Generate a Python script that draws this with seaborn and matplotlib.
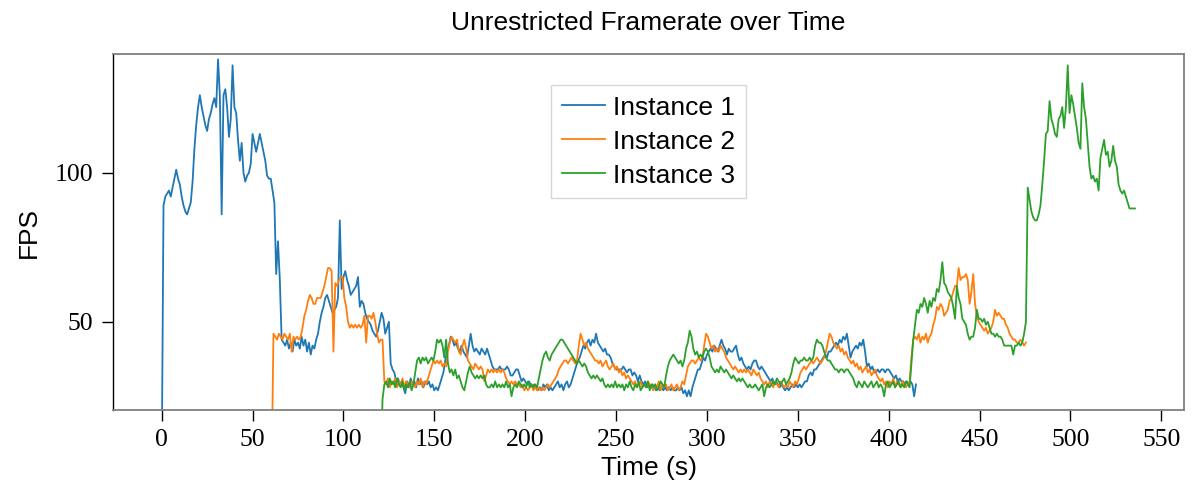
import numpy as np
import pandas as pd
import matplotlib
matplotlib.use("Agg")
import matplotlib.pyplot as plt
import seaborn as sns

# ---------------- data (1 sample per second) ----------------
start1 = 0.0
fps1 = [
    0, 89, 92, 93, 94, 92, 95, 98, 101, 98,          # 0
    96, 92, 89, 87, 86, 88, 90, 97, 108, 116,        # 10
    122, 126, 122, 119, 116, 114, 118, 120, 123, 125,  # 20
    122, 138, 126, 86, 126, 128, 122, 112, 118, 136,   # 30
    122, 120, 111, 104, 110, 100, 97, 99, 100, 103,    # 40
    113, 110, 107, 110, 113, 110, 107, 104, 99, 98,    # 50
    98, 94, 90, 66, 77, 64, 44, 43, 42, 44,          # 60
    41, 43, 40, 44, 42, 43, 41, 45, 42, 44,          # 70
    40, 43, 39, 42, 41, 44, 46, 50, 53, 55,          # 80
    58, 59, 57, 55, 53, 54, 55, 58, 84, 61,          # 90
    65, 67, 64, 62, 59, 60, 61, 62, 65, 55,          # 100
    57, 56, 53, 51, 50, 49, 47, 46, 45, 47,          # 110
    50, 53, 51, 46, 48, 50, 36, 34, 33, 30,          # 120
    31, 29, 30, 28, 26, 30, 28, 31, 29, 30,          # 130
    28, 31, 29, 30, 28, 30, 29, 30, 28, 29,          # 140
    27, 28, 27, 29, 31, 33, 37, 40, 42, 45,          # 150
    44, 42, 43, 41, 40, 42, 40, 39, 38, 42,          # 160
    46, 42, 40, 41, 40, 39, 41, 40, 39, 41,          # 170
    39, 37, 35, 34, 34, 34, 35, 34, 34, 34,          # 180
    35, 34, 32, 32, 33, 34, 34, 32, 30, 31,          # 190
    30, 29, 30, 29, 28, 29, 28, 27, 28, 27,          # 200
    29, 28, 29, 27, 28, 27, 28, 29, 30, 28,          # 210
    29, 27, 29, 30, 28, 29, 31, 33, 35, 37,          # 220
    38, 40, 42, 41, 43, 44, 42, 44, 43, 46,          # 230
    43, 42, 41, 40, 41, 39, 39, 38, 36, 35,          # 240
    34, 34, 34, 34, 35, 34, 33, 34, 34, 32,          # 250
    33, 32, 30, 32, 30, 29, 30, 28, 29, 28,          # 260
    29, 28, 27, 28, 27, 28, 27, 28, 27, 28,          # 270
    27, 28, 27, 27, 28, 27, 28, 26, 27, 25,          # 280
    27, 25, 28, 30, 32, 34, 34, 36, 38, 37,          # 290
    39, 40, 41, 40, 42, 41, 40, 42, 44, 42,          # 300
    41, 39, 41, 40, 40, 41, 42, 39, 37, 38,          # 310
    36, 35, 34, 35, 34, 36, 37, 37, 35, 34,          # 320
    35, 34, 33, 32, 31, 30, 31, 29, 30, 29,          # 330
    28, 29, 28, 27, 28, 27, 28, 29, 28, 29,          # 340
    28, 29, 28, 29, 30, 30, 32, 33, 32, 34,          # 350
    34, 35, 36, 37, 38, 39, 38, 40, 40, 41,          # 360
    42, 43, 42, 44, 43, 45, 44, 46, 42, 38,          # 370
    40, 41, 42, 41, 43, 42, 44, 40, 35, 36,          # 380
    34, 35, 33, 33, 34, 33, 34, 34, 33, 34,          # 390
    34, 33, 32, 31, 32, 30, 31, 30, 30, 29,          # 400
    30, 29, 30, 29, 25, 29,                          # 410
]

start2 = 60.5
fps2 = [
    0, 46, 45, 44, 46, 45, 44, 46, 45, 44,           # 60
    46, 40, 45, 44, 45, 44, 45, 48, 52, 54,          # 70
    57, 59, 58, 56, 56, 58, 58, 58, 60, 62,          # 80
    65, 68, 68, 67, 40, 63, 62, 64, 65, 65,          # 90
    58, 55, 50, 48, 49, 48, 49, 48, 49, 48,          # 100
    49, 52, 43, 52, 52, 51, 53, 50, 46, 43,          # 110
    44, 44, 30, 29, 31, 28, 30, 29, 31, 28,          # 120
    30, 29, 31, 28, 30, 29, 28, 30, 29, 28,          # 130
    30, 29, 31, 28, 30, 29, 31, 33, 35, 37,          # 140
    36, 37, 36, 37, 35, 36, 35, 40, 43, 45,          # 150
    44, 43, 44, 40, 39, 42, 44, 41, 37, 36,          # 160
    35, 34, 36, 35, 34, 35, 34, 30, 32, 34,          # 170
    33, 34, 33, 34, 33, 34, 33, 34, 33, 31,          # 180
    30, 29, 30, 29, 30, 29, 29, 28, 29, 27,          # 190
    28, 27, 28, 29, 27, 28, 27, 28, 27, 28,          # 200
    27, 28, 29, 28, 29, 30, 31, 32, 34, 35,          # 210
    36, 37, 37, 36, 37, 38, 37, 36, 37, 42,          # 220
    46, 44, 42, 43, 41, 40, 39, 38, 37, 37,          # 230
    36, 37, 35, 36, 37, 35, 34, 35, 36, 34,          # 240
    35, 33, 34, 32, 33, 31, 32, 31, 30, 29,          # 250
    30, 28, 29, 30, 28, 29, 28, 30, 29, 28,          # 260
    27, 29, 28, 30, 27, 29, 28, 29, 27, 28,          # 270
    29, 27, 28, 29, 27, 28, 30, 29, 32, 35,          # 280
    36, 37, 37, 36, 37, 38, 37, 38, 42, 46,          # 290
    45, 43, 41, 42, 40, 41, 40, 42, 41, 40,          # 300
    38, 37, 36, 35, 34, 35, 34, 33, 34, 33,          # 310
    34, 33, 34, 33, 32, 34, 33, 32, 33, 31,          # 320
    30, 29, 30, 28, 30, 29, 28, 30, 29, 28,          # 330
    30, 29, 28, 29, 28, 30, 29, 28, 30, 29,          # 340
    31, 33, 34, 35, 34, 35, 36, 37, 36, 37,          # 350
    38, 37, 36, 37, 38, 40, 43, 46, 45, 43,          # 360
    42, 41, 42, 40, 41, 39, 40, 38, 37, 36,          # 370
    37, 35, 36, 34, 35, 33, 34, 35, 33, 34,          # 380
    32, 33, 34, 32, 31, 30, 31, 29, 30, 28,          # 390
    30, 29, 31, 28, 30, 29, 28, 30, 29, 28,          # 400
    29, 30, 38, 44, 45, 44, 46, 43, 45, 44,          # 410
    46, 43, 45, 46, 49, 51, 55, 54, 56, 55,          # 420
    52, 53, 54, 57, 58, 60, 62, 62, 68, 64,          # 430
    65, 65, 66, 64, 56, 60, 66, 56, 52, 50,          # 440
    49, 48, 47, 48, 46, 47, 48, 50, 54, 52,          # 450
    53, 52, 51, 51, 49, 48, 46, 45, 44, 44,          # 460
    43, 43, 44, 43, 42, 43,                          # 470
]

start3 = 120.5
fps3 = [
    0, 24, 29, 30, 28, 31, 29, 30, 28, 31,           # 120
    29, 28, 30, 27, 29, 28, 30, 27, 29, 33,          # 130
    37, 38, 36, 38, 37, 38, 36, 37, 38, 37,          # 140
    40, 44, 43, 44, 42, 38, 44, 36, 33, 34,          # 150
    32, 34, 31, 32, 30, 28, 27, 30, 33, 35,          # 160
    33, 32, 31, 32, 31, 32, 31, 32, 29, 28,          # 170
    28, 29, 28, 30, 28, 29, 28, 29, 28, 30,          # 180
    28, 29, 25, 28, 29, 28, 30, 29, 28, 29,          # 190
    28, 30, 28, 29, 28, 29, 28, 31, 34, 37,          # 200
    39, 40, 38, 37, 39, 40, 41, 42, 43, 44,          # 210
    44, 43, 42, 41, 40, 39, 38, 37, 36, 37,          # 220
    36, 35, 36, 35, 33, 32, 31, 32, 31, 32,          # 230
    31, 30, 31, 29, 28, 29, 28, 29, 28, 30,          # 240
    28, 29, 28, 29, 27, 29, 28, 30, 28, 27,          # 250
    29, 28, 30, 27, 28, 29, 28, 30, 27, 29,          # 260
    28, 29, 27, 28, 30, 29, 28, 32, 35, 37,          # 270
    38, 39, 38, 37, 36, 37, 35, 37, 41, 43,          # 280
    47, 45, 41, 39, 40, 38, 39, 38, 40, 41,          # 290
    40, 38, 35, 34, 33, 34, 33, 35, 34, 33,          # 300
    34, 33, 32, 31, 32, 31, 30, 31, 30, 31,          # 310
    30, 29, 28, 29, 28, 28, 29, 28, 27, 28,          # 320
    29, 25, 28, 29, 28, 29, 30, 29, 31, 30,          # 330
    29, 30, 31, 29, 30, 31, 33, 36, 38, 37,          # 340
    36, 37, 37, 38, 37, 37, 38, 37, 38, 42,          # 350
    44, 43, 43, 42, 40, 38, 37, 37, 36, 35,          # 360
    34, 34, 33, 34, 34, 33, 34, 34, 33, 32,          # 370
    31, 29, 28, 30, 29, 28, 30, 29, 28, 29,          # 380
    30, 28, 29, 30, 28, 29, 28, 25, 29, 30,          # 390
    28, 29, 30, 28, 29, 30, 28, 29, 28, 30,          # 400
    29, 28, 36, 44, 49, 54, 53, 56, 55, 58,          # 410
    56, 53, 57, 55, 58, 57, 61, 60, 64, 70,          # 420
    63, 62, 60, 59, 58, 55, 51, 62, 58, 56,          # 430
    51, 50, 49, 46, 44, 45, 45, 48, 54, 51,          # 440
    51, 50, 51, 49, 50, 48, 46, 46, 45, 46,          # 450
    45, 45, 44, 42, 42, 42, 42, 42, 39, 42,          # 460
    42, 43, 42, 43, 46, 50, 95, 91, 87, 85,          # 470
    84, 84, 86, 89, 96, 104, 113, 114, 124, 118,     # 480
    116, 113, 112, 118, 119, 122, 115, 122, 136, 120,  # 490
    126, 123, 119, 115, 110, 108, 130, 122, 118, 110,  # 500
    102, 98, 99, 97, 98, 94, 105, 108, 111, 106,     # 510
    107, 102, 104, 109, 104, 102, 96, 94, 93, 94,    # 520
    92, 90, 88, 88, 88, 88,                          # 530
]

instances = ["Instance 1", "Instance 2", "Instance 3"]
starts = [start1, start2, start3]
series = [fps1, fps2, fps3]
xticks = [0, 50, 100, 150, 200, 250, 300, 350, 400, 450, 500, 550]
yticks = [50, 100]

frames = []
for name, s0, vals in zip(instances, starts, series):
    frames.append(pd.DataFrame({
        "Time": s0 + np.arange(len(vals)),
        "FPS": vals,
        "Instance": name,
    }))
df = pd.concat(frames, ignore_index=True)

# ---------------- figure ----------------
fig = plt.figure(figsize=(11.93, 4.88), dpi=100)
ax = fig.add_axes([0.0947, 0.1598, 0.8978, 0.7295])

palette = sns.color_palette("tab10", 3)
sns.lineplot(data=df, x="Time", y="FPS", hue="Instance", palette=palette,
             estimator=None, linewidth=1.3, ax=ax, sort=False)

ax.set_xlim(-26.8, 562.5)
ax.set_ylim(20.4, 139.8)
ax.set_xticks(xticks)
ax.set_yticks(yticks)

tick_font = {"family": "Liberation Serif", "size": 18.5}
ax.set_xticklabels([str(v) for v in xticks], fontdict=tick_font)
ax.set_yticklabels([str(v) for v in yticks], fontdict=tick_font)
ax.tick_params(axis="both", direction="out", length=8, width=1, color="black", pad=6)

for side in ["top", "right", "bottom"]:
    ax.spines[side].set_color("#808080")
    ax.spines[side].set_linewidth(1.3)
ax.spines["left"].set_color("black")
ax.spines["left"].set_linewidth(1.0)

sans = "Liberation Sans"
ax.set_xlabel("Time (s)", fontsize=19, family=sans, labelpad=3)
ax.set_ylabel("FPS", fontsize=19, family=sans, labelpad=10)
ax.set_title("Unrestricted Framerate over Time", fontsize=19, family=sans, pad=17)

leg = ax.legend(loc="upper left", bbox_to_anchor=(0.409, 0.913), borderaxespad=0,
                prop={"family": sans, "size": 19}, frameon=True, fancybox=False,
                handlelength=1.65, handletextpad=0.3, labelspacing=0.38,
                borderpad=0.4, title=None)
leg.get_frame().set_edgecolor("#cccccc")
leg.get_frame().set_linewidth(1.0)
for line in leg.get_lines():
    line.set_linewidth(1.3)

fig.savefig("out.png", dpi=100)
